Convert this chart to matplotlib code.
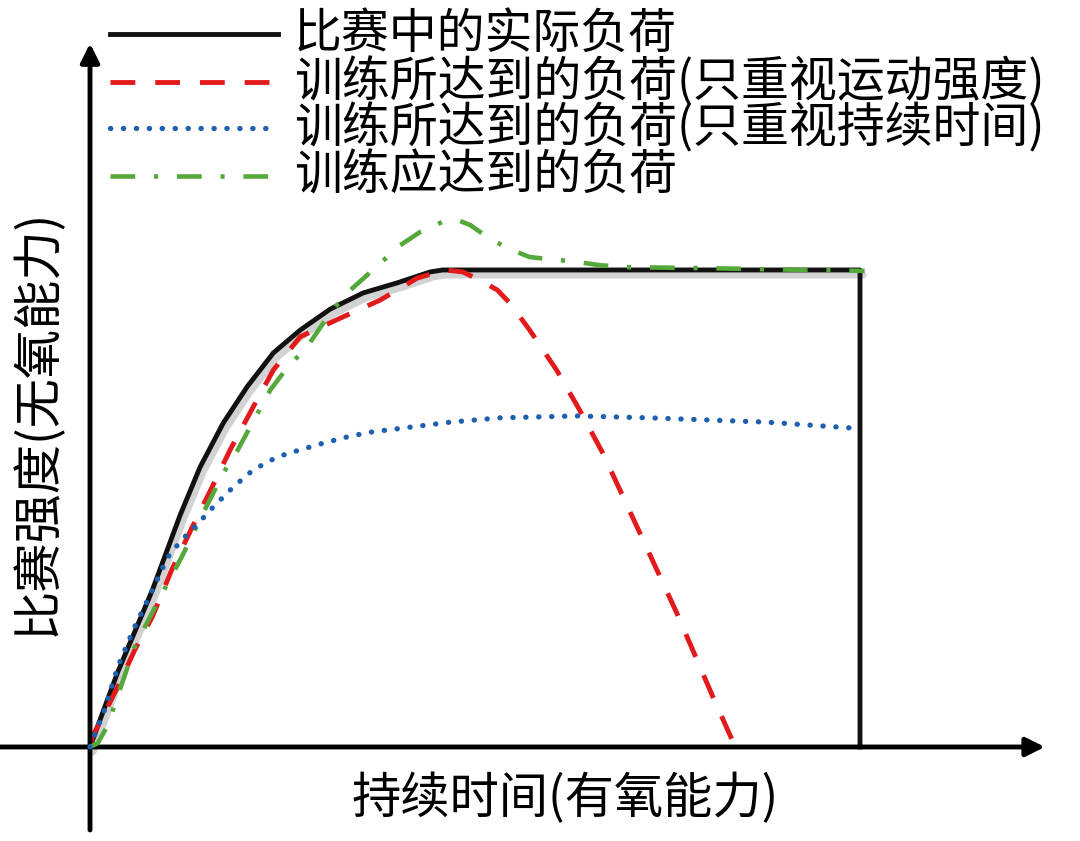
import matplotlib
matplotlib.use('Agg')
import matplotlib.pyplot as plt
import matplotlib.transforms as mtransforms
from matplotlib.lines import Line2D

plt.rcParams['font.family'] = ['Noto Sans CJK SC', 'DejaVu Sans']

# curve data (x: duration, y: intensity; plateau of real load = 100)
actual_x = [0, 3.6, 8.1, 11.7, 14.3, 17.3, 20.4, 23.8, 27.3, 31.2, 35.5, 39.9, 44.2, 45.8, 100, 100]
actual_y = [0, 15.7, 32.9, 48.6, 58.7, 67.9, 75.5, 82.6, 87.4, 91.8, 95.2, 97.3, 99.6, 100, 100, 0]

intensity_x = [0, 0.3, 3.6, 5.8, 8.1, 10.6, 13.4, 15.8, 18.2, 21.2, 23.8, 27.3, 32.5, 37.7,
               42.5, 46.1, 48.4, 50.6, 52.9, 54.5, 57.1, 60.6, 63.6, 66.6, 71.4, 76.2, 80.9, 83.8]
intensity_y = [0, 2.1, 12.6, 20.3, 27.3, 37.1, 46.5, 54.3, 62.3, 71.3, 79.0, 86.0, 89.9, 93.7,
               98.3, 100, 99.6, 97.9, 95.8, 93.1, 87.4, 79.0, 70.6, 61.6, 44.9, 28.1, 10.5, 0]

duration_x = [0, 1.9, 3.6, 5.8, 8.1, 10.1, 11.9, 13.6, 16.0, 18.6, 21.2, 24.3, 27.3, 30.3,
              33.4, 36.4, 46.8, 53.2, 63.2, 72.7, 87.9, 98.7]
duration_y = [0, 7.8, 16.8, 25.2, 32.9, 39.8, 43.4, 46.1, 50.3, 54.5, 58.1, 60.8, 62.3, 63.7,
              65.0, 66.0, 68.1, 69.0, 69.4, 69.0, 68.1, 66.9]

target_x = [0, 1.0, 2.2, 5.8, 9.4, 11.9, 14.9, 17.3, 19.2, 20.8, 23.4, 25.6, 28.2, 31.2, 33.4,
            35.7, 40.3, 42.9, 45.8, 47.7, 49.4, 51.6, 54.2, 57.1, 63.2, 66.2, 69.7, 79.2, 100.6]
target_y = [0, 0.8, 4.2, 21.0, 32.3, 39.8, 49.7, 57.4, 62.3, 67.1, 74.8, 79.5, 83.9, 91.0, 95.2,
            98.5, 105.2, 108.0, 110.1, 110.5, 109.4, 106.9, 104.6, 102.7, 101.7, 101.0, 100.6,
            100.4, 99.8]

labels = ['比赛中的实际负荷',
          '训练所达到的负荷(只重视运动强度)',
          '训练所达到的负荷(只重视持续时间)',
          '训练应达到的负荷']
xlabel = '持续时间(有氧能力)'
ylabel = '比赛强度(无氧能力)'

black = '#111111'
red = '#e31a1c'
blue = '#1f5fb0'
green = '#55a83a'

fig = plt.figure(figsize=(10.8, 8.41), dpi=100)
ax = fig.add_axes([0, 0, 1, 1])
ax.set_xlim(-11.69, 128.57)
ax.set_ylim(-19.71, 156.6)
ax.axis('off')

# line styles, shared by curves and legend samples
st_black = dict(color=black, lw=3.5, solid_joinstyle='round')
st_red = dict(color=red, lw=3.5, dashes=(5.1, 4.1))
st_blue = dict(color=blue, lw=3.8, dashes=(0.05, 2.4), dash_capstyle='round')
st_green = dict(color=green, lw=3.3, dashes=(5.4, 4.1, 0.9, 4.1))

# soft gray shadow under the real-load curve
shadow = mtransforms.offset_copy(ax.transData, fig=fig, x=3, y=-5, units='dots')
ax.plot(actual_x[:-1], actual_y[:-1], color='#d2d2d2', lw=5, transform=shadow,
        solid_capstyle='round', solid_joinstyle='round', zorder=1)

ax.plot(actual_x, actual_y, zorder=2, **st_black)
ax.plot(intensity_x, intensity_y, zorder=3, **st_red)
ax.plot(target_x, target_y, zorder=4, **st_green)
ax.plot(duration_x, duration_y, zorder=5, **st_blue)

# axes with arrows
arrow = dict(arrowstyle='-|>', lw=3.5, color='black', mutation_scale=28, shrinkA=0, shrinkB=0)
ax.annotate('', xy=(124.0, 0), xytext=(-11.7, 0), arrowprops=arrow)
ax.annotate('', xy=(0, 147.5), xytext=(0, -17.4), arrowprops=arrow)

ax.text(61.7, -11.0, xlabel, fontsize=35.5, ha='center', va='center')
ax.text(-6.8, 68.0, ylabel, fontsize=35.5, ha='center', va='center', rotation=90)

# legend drawn by hand
styles = [st_black, st_red, st_blue, st_green]
rows = [34, 82, 128, 176]
for lab, st, yy in zip(labels, styles, rows):
    yf = 1 - yy / 841
    fig.add_artist(Line2D([110 / 1080, 278 / 1080], [yf, yf], transform=fig.transFigure, **st))
    fig.text(294 / 1080, yf, lab, fontsize=34.5, ha='left', va='center')

fig.savefig('out.png', dpi=100, facecolor='white')
